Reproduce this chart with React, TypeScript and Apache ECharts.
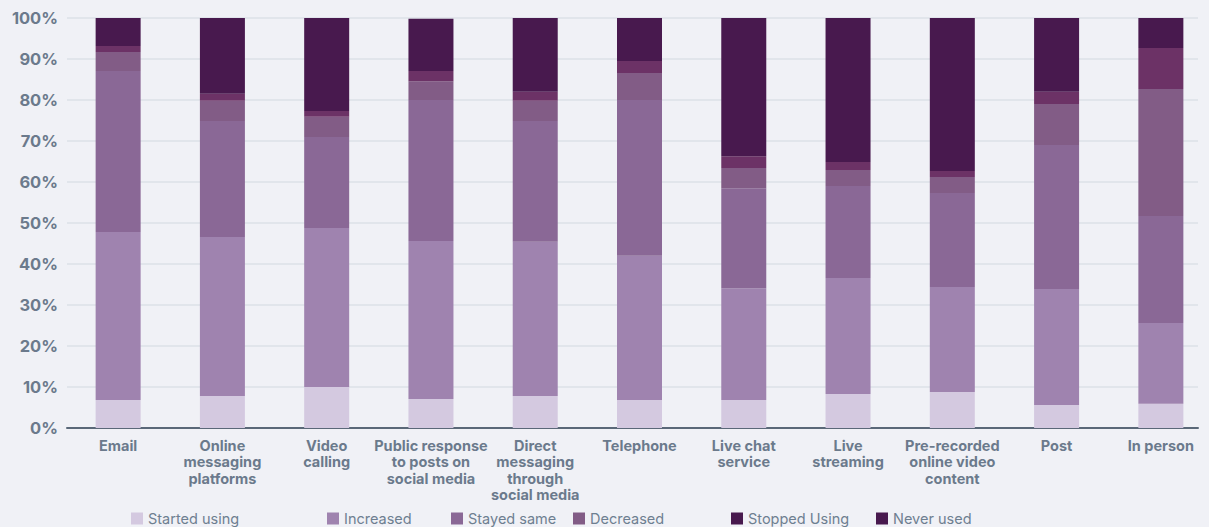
import React, { useEffect, useRef } from "react";
import * as echarts from "echarts";

const categories = [
  "Email",
  "Online\nmessaging\nplatforms",
  "Video\ncalling",
  "Public response\nto posts on\nsocial media",
  "Direct\nmessaging\nthrough\nsocial media",
  "Telephone",
  "Live chat\nservice",
  "Live\nstreaming",
  "Pre-recorded\nonline video\ncontent",
  "Post",
  "In person",
];

const seriesNames = ["Started using", "Increased", "Stayed same", "Decreased", "Stopped Using", "Never used"];

const startedUsing = [6.8, 7.8, 10.0, 7.1, 7.8, 6.8, 6.8, 8.3, 8.8, 5.6, 5.9];
const increased = [41.0, 38.8, 38.8, 38.5, 37.6, 35.2, 27.3, 28.3, 25.6, 28.3, 19.7];
const stayedSame = [39.3, 28.3, 22.2, 34.4, 29.5, 38.0, 24.4, 22.4, 22.9, 35.1, 26.1];
const decreased = [4.6, 4.9, 4.9, 4.6, 4.9, 6.6, 4.9, 3.9, 3.9, 10.0, 31.0];
const stoppedUsing = [1.5, 1.7, 1.4, 2.5, 2.2, 2.9, 2.9, 2.0, 1.5, 3.0, 10.0];
const neverUsed = [6.8, 18.5, 22.7, 12.7, 18.0, 10.5, 33.7, 35.1, 37.3, 18.0, 7.3];

const seriesData = [startedUsing, increased, stayedSame, decreased, stoppedUsing, neverUsed];
const barColors = ["#d4c9e0", "#9f83af", "#8a6896", "#825c86", "#6c3266", "#48194e"];
const legendColors = ["#d4c9e0", "#9f83af", "#8a6896", "#825c86", "#48194e", "#48194e"];
const legendLefts = [131, 327, 451, 573, 731, 876];

export default function App() {
  const ref = useRef<HTMLDivElement>(null);
  useEffect(() => {
    if (!ref.current) return;
    const chart = echarts.init(ref.current, null, { renderer: "svg" });
    const textColor = "#6b7a8c";
    chart.setOption({
      animation: false,
      backgroundColor: "#f0f1f6",
      grid: [
        { left: 66, width: 1147, top: 18, bottom: 99, containLabel: false, outerBoundsMode: "none" },
        { left: 67, right: 11, top: 18, bottom: 99, containLabel: false, outerBoundsMode: "none" },
      ],
      legend: seriesNames.map((n, i) => ({
        top: 511,
        left: legendLefts[i],
        padding: 0,
        itemWidth: 12,
        itemHeight: 12,
        icon: "rect",
        textStyle: { fontFamily: "Inter", fontSize: 14.5, color: "#6e7f91" },
        data: [{ name: n, itemStyle: { color: legendColors[i] } }],
      })),
      xAxis: [
        {
          gridIndex: 0,
          type: "category",
          data: categories,
          axisTick: { show: false },
          axisLine: { show: false },
          axisLabel: {
            interval: 0,
            fontFamily: "Inter",
            fontWeight: "bold",
            fontSize: 14.5,
            lineHeight: 16.5,
            color: textColor,
            margin: 9,
          },
        },
        {
          gridIndex: 1,
          type: "value",
          min: 0,
          max: 1,
          axisTick: { show: false },
          axisLabel: { show: false },
          splitLine: { show: false },
          axisLine: { lineStyle: { color: "#5a6878", width: 2 } },
        },
      ],
      yAxis: [
        {
          gridIndex: 0,
          type: "value",
          min: 0,
          max: 100,
          interval: 10,
          show: false,
        },
        {
          gridIndex: 1,
          type: "value",
          min: 0,
          max: 100,
          interval: 10,
          axisLine: { show: false },
          axisTick: { show: false },
          axisLabel: {
            formatter: "{value}%",
            fontFamily: "Inter",
            fontWeight: "bold",
            fontSize: 16.5,
            color: textColor,
            margin: 9,
          },
          splitLine: { lineStyle: { color: "#dde1e7", width: 1.5 } },
        },
      ],
      series: seriesNames.map((n, i) => ({
        name: n,
        type: "bar",
        stack: "total",
        xAxisIndex: 0,
        yAxisIndex: 0,
        barWidth: 45,
        itemStyle: { color: barColors[i] },
        data: seriesData[i],
      })),
    });
    return () => chart.dispose();
  }, []);
  return <div ref={ref} style={{ width: 1209, height: 527, position: "absolute", left: 0, top: 0 }} />;
}
